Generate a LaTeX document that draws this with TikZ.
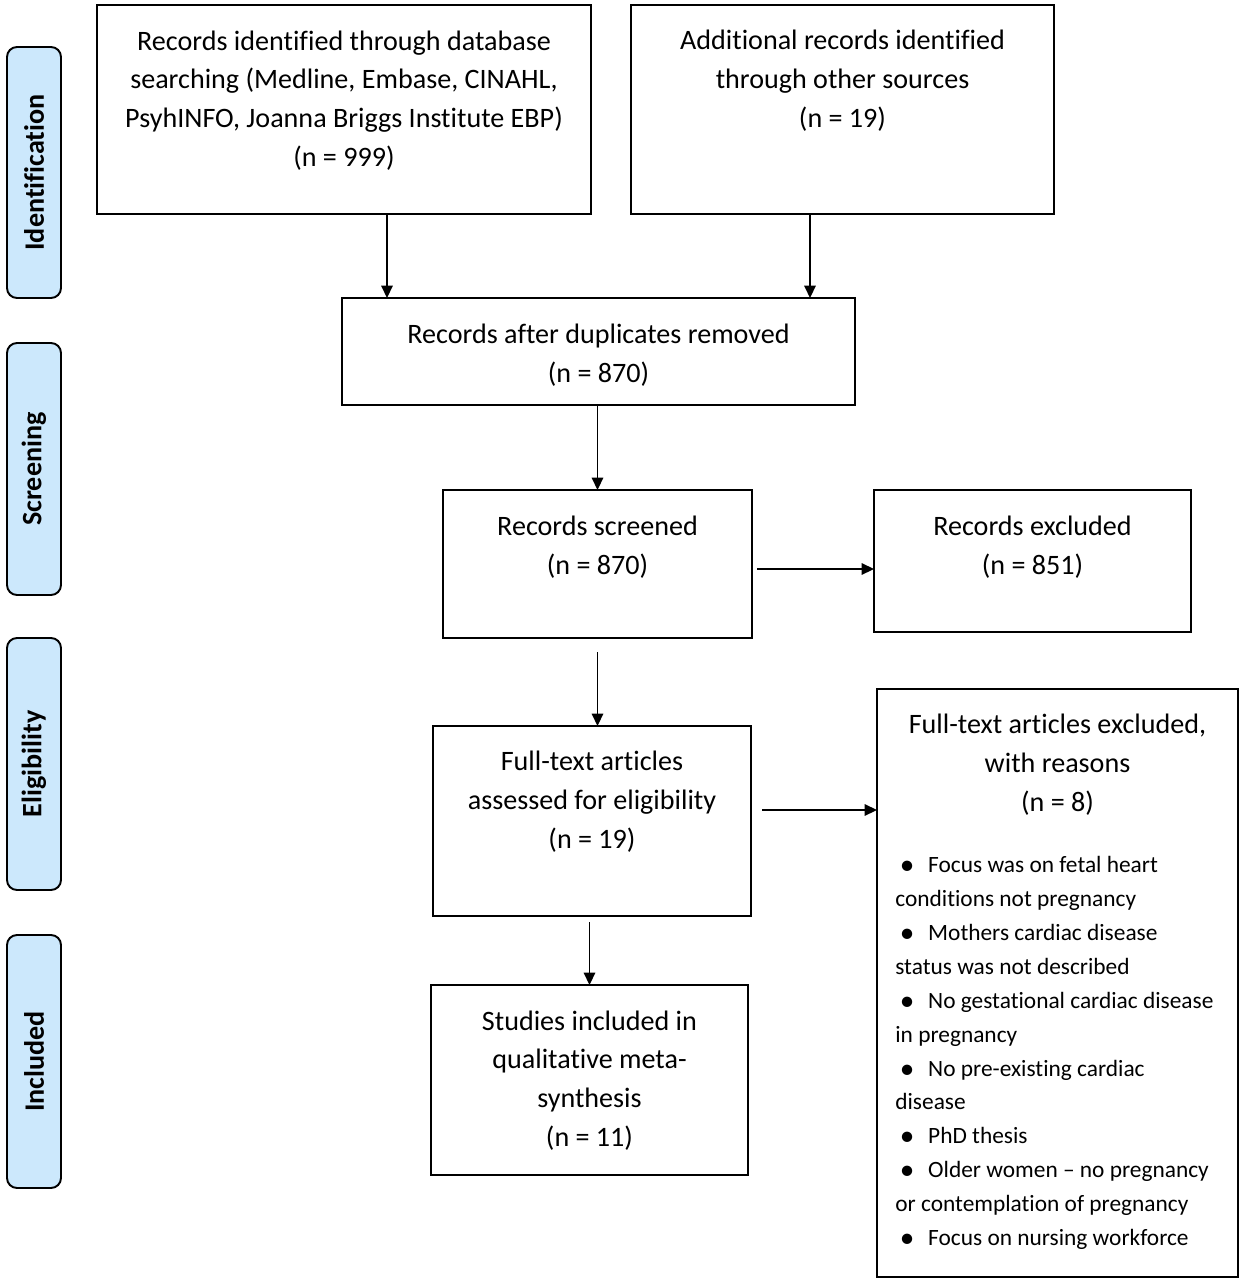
\documentclass[tikz,border=0pt]{standalone}
\usepackage{fontspec}
\setmainfont{Carlito}[Ligatures={NoCommon}]
\usetikzlibrary{arrows.meta,fit,positioning}
\definecolor{phase}{RGB}{204,232,252}
\begin{document}
\begin{tikzpicture}[x=0.02cm,y=-0.02cm,
  box/.style={draw=black, line width=1.1pt, inner sep=0pt, outer sep=0pt},
  phasebox/.style={draw=black, fill=phase, line width=1.1pt, rounded corners=0.2cm, inner sep=0pt, outer sep=0pt},
  phasetxt/.style={rotate=90, font=\fontsize{16}{19}\selectfont\bfseries},
  txt/.style={align=center, inner sep=0pt, font=\fontsize{16}{22.1}\selectfont},
  smalltxt/.style={align=left, inner sep=0pt, anchor=west, font=\fontsize{13.3}{19.3}\selectfont},
  arr/.style={line width=0.9pt, -{Triangle[length=7pt,width=6.5pt]}}]
\useasboundingbox (0,0) rectangle (1241,1280);

% phase labels
\node[phasebox, fit={(7,47) (61,298)}] (pid) {};
\node[phasetxt] (pidt) at (pid.center) {Identification};
\node[phasebox, fit={(7,343) (61,595)}] (psc) {};
\node[phasetxt] (psct) at (psc.center) {Screening};
\node[phasebox, fit={(7,638) (61,890)}] (pel) {};
\node[phasetxt] (pelt) at (pel.center) {Eligibility};
\node[phasebox, fit={(7,935) (61,1188)}] (pin) {};
\node[phasetxt] (pint) at (pin.center) {Included};

% boxes
\node[box, fit={(97,5) (591,214)}] (b1) {};
\node[txt] (t1) at (344,100.5) {Records identified through database\\searching (Medline, Embase, CINAHL,\\PsyhINFO, Joanna Briggs Institute EBP)\\(n = 999)};

\node[box, fit={(631,5) (1054,214)}] (b2) {};
\node[txt] (t2) at (842.5,81) {Additional records identified\\through other sources\\(n = 19)};

\node[box, fit={(342,298) (855,405)}] (b3) {};
\node[txt] (t3) at (598.5,355.5) {Records after duplicates removed\\(n = 870)};

\node[box, fit={(443,490) (752,638)}] (b4) {};
\node[txt] (t4) at (597.5,547) {Records screened\\(n = 870)};

\node[box, fit={(874,490) (1191,632)}] (b5) {};
\node[txt] (t5) at (1032.5,547) {Records excluded\\(n = 851)};

\node[box, fit={(433,726) (751,916)}] (b6) {};
\node[txt] (t6) at (592,801.5) {Full-text articles\\assessed for eligibility\\(n = 19)};

\node[box, fit={(877,689) (1238,1277)}] (b7) {};
\node[txt] (t7) at (1057.5,765) {Full-text articles excluded,\\with reasons\\(n = 8)};
\newcommand{\bul}{\makebox[18.7pt][l]{\hspace{2.5pt}\raisebox{-1.1pt}{\scalebox{1.25}{\textbullet}}}}
\node[smalltxt] (t7b) at (895,1053) {\bul Focus was on fetal heart\\conditions not pregnancy\\\bul Mothers cardiac disease\\status was not described\\\bul No gestational cardiac disease\\in pregnancy\\\bul No pre-existing cardiac\\disease\\\bul PhD thesis\\\bul Older women -- no pregnancy\\or contemplation of pregnancy\\\bul Focus on nursing workforce};

\node[box, fit={(431,985) (748,1175)}] (b8) {};
\node[txt] (t8) at (589.5,1080.5) {Studies included in\\qualitative meta-\\synthesis\\(n = 11)};

% connectors
\coordinate (x1) at (387,0);
\coordinate (x2) at (810,0);
\coordinate (y4) at (0,569);
\coordinate (y6) at (0,810);
\draw[arr] (b1.south -| x1) -- (b3.north -| x1);
\draw[arr] (b2.south -| x2) -- (b3.north -| x2);
\draw[arr] (b3.south -| b4.north) -- (b4.north);
\draw[arr, shorten <=0.1cm] (b4.east |- y4) -- (b5.west |- y4);
\draw[arr, shorten <=0.28cm] (b4.south) -- (b4.south |- b6.north);
\draw[arr, shorten <=0.22cm] (b6.east |- y6) -- (b7.west |- y6);
\draw[arr, shorten <=0.12cm] (b8.north |- b6.south) -- (b8.north);
\end{tikzpicture}
\end{document}
